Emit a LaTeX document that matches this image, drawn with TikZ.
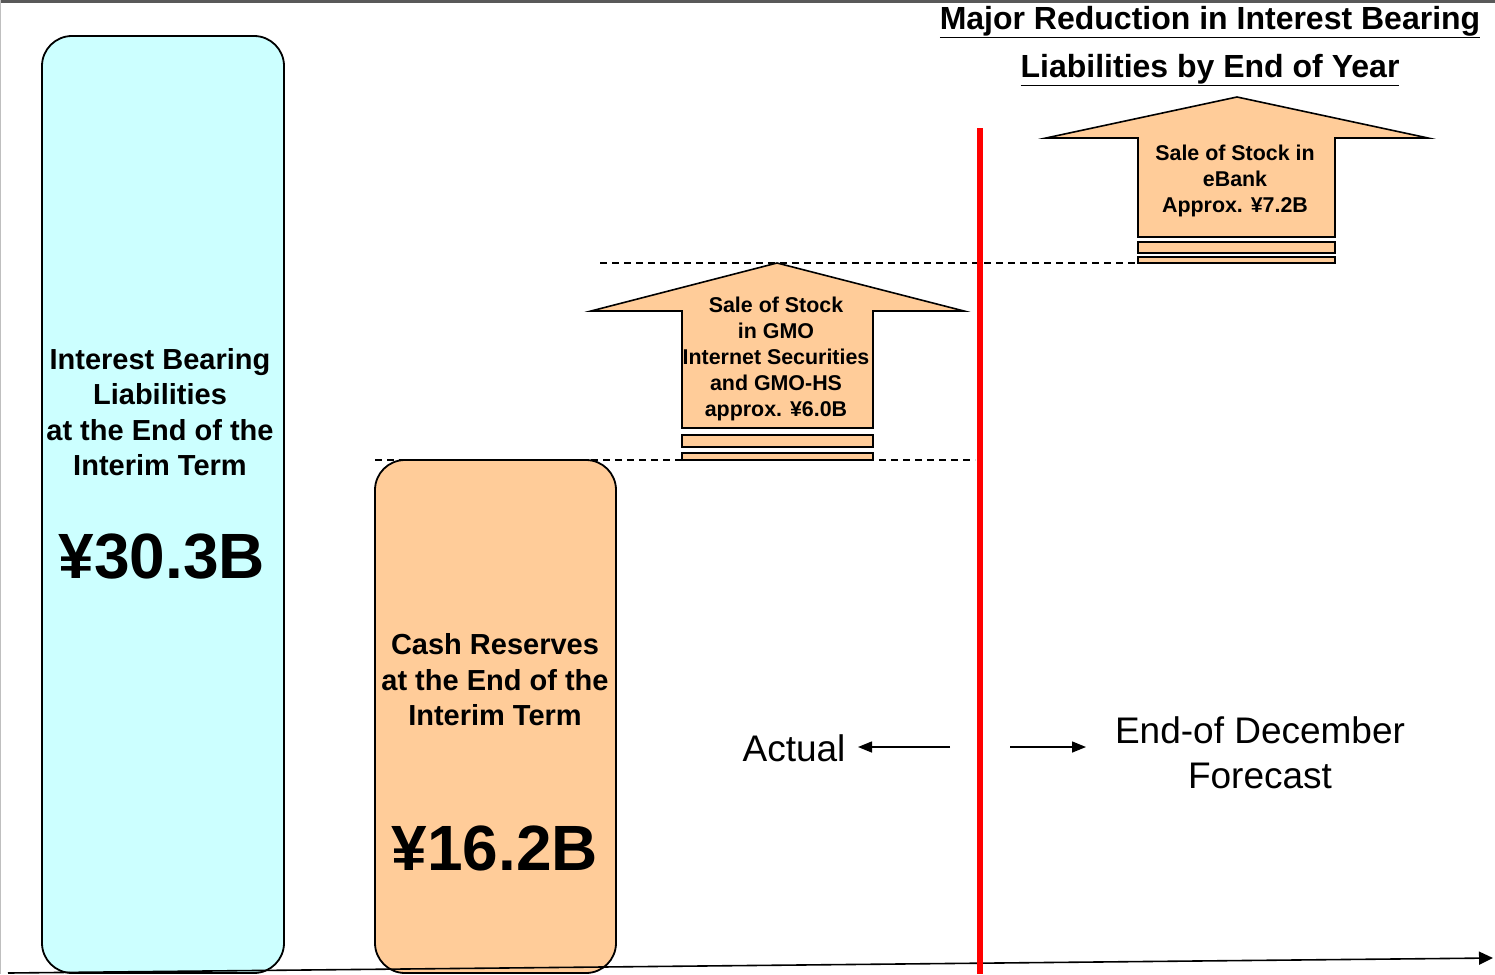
\documentclass[tikz,border=0pt]{standalone}
\usepackage{fontspec}
\setmainfont{Liberation Sans}
\usetikzlibrary{arrows.meta}
\definecolor{boxcyan}{HTML}{CCFFFF}
\definecolor{boxorange}{HTML}{FFCC99}
\definecolor{topgray}{HTML}{595959}
\definecolor{leftgray}{HTML}{BFBFBF}
\begin{document}
\begin{tikzpicture}[x=1pt,y=-1pt,
  bigbox/.style={draw=black,line width=1.8pt,rounded corners=30pt},
  arrowshape/.style={draw=black,line width=1.6pt,fill=boxorange,line join=miter},
  guide/.style={draw=black,line width=1.3pt,dash pattern=on 7pt off 5pt},
  boxtext/.style={inner sep=0pt,align=center,font=\bfseries\fontsize{29}{35.5}\selectfont},
  bignum/.style={inner sep=0pt,font=\bfseries\fontsize{64}{70}\selectfont},
  arrtext/.style={inner sep=0pt,align=center,font=\bfseries\fontsize{21.4}{26}\selectfont},
  plaintext/.style={inner sep=0pt,align=center,font=\fontsize{37}{45}\selectfont},
  titletext/.style={inner sep=0pt,font=\bfseries\fontsize{32}{38}\selectfont}
]
\useasboundingbox (0,0) rectangle (1495,974);
% frame lines
\draw[topgray,line width=3pt] (0,1.2) -- (1495,1.2);
\draw[leftgray,line width=1.2pt] (0.6,0) -- (0.6,974);
% big boxes
\draw[bigbox,fill=boxcyan] (42,36) rectangle (284,973);
\draw[bigbox,fill=boxorange] (375,460) rectangle (616,973);
% guides
\draw[guide] (600,263) -- (1140,263);
\draw[guide] (375,460) -- (975,460);
% arrow 1 (GMO)
\draw[arrowshape] (777,263) -- (964,311) -- (873,311) -- (873,428) -- (682,428) -- (682,311) -- (591,311) -- cycle;
\draw[arrowshape] (682,435) rectangle (873,447);
\draw[arrowshape] (682,453) rectangle (873,460);
% arrow 2 (eBank)
\draw[arrowshape] (1237,97) -- (1428,138) -- (1335,138) -- (1335,237) -- (1138,237) -- (1138,138) -- (1046,138) -- cycle;
\draw[arrowshape] (1138,242) rectangle (1335,253);
\draw[arrowshape] (1138,257) rectangle (1335,263);
% axis
\coordinate (axisL) at (8,973);
\coordinate (axisR) at (1493,958);
\draw[black,line width=1.6pt,-{Triangle[length=14pt,width=13pt]}] (axisL) -- (axisR);
% red divider
\draw[red,line width=6pt] (980,128) -- (980,974);
% texts
\node[titletext] (t1) at (1210,22) {\underline{Major Reduction in Interest Bearing}};
\node[titletext] (t2) at (1210,70) {\underline{Liabilities by End of Year}};
\node[boxtext] (ibl) at (160,412) {Interest Bearing\\Liabilities\\at the End of the\\Interim Term};
\node[bignum] (v1) at (162,557) {¥30.3B};
\node[boxtext] (cash) at (495,680) {Cash Reserves\\at the End of the\\Interim Term};
\node[bignum] (v2) at (495,848) {¥16.2B};
\node[arrtext] (gmo) at (776,359) {Sale of Stock\\in GMO\\Internet Securities\\and GMO-HS\\approx. ¥6.0B};
\node[arrtext] (ebank) at (1235,180.5) {Sale of Stock in\\eBank\\Approx. ¥7.2B};
\node[plaintext] (actual) at (794,748) {Actual};
\node[plaintext] (fcst) at (1260,753) {End-of December\\Forecast};
% small arrows
\coordinate (aL0) at (950,747);
\coordinate (aL1) at (858,747);
\coordinate (aR0) at (1010,747);
\coordinate (aR1) at (1086,747);
\draw[black,line width=1.5pt,-{Triangle[length=14pt,width=11pt]}] (aL0) -- (aL1);
\draw[black,line width=1.5pt,-{Triangle[length=14pt,width=11pt]}] (aR0) -- (aR1);
\end{tikzpicture}
\end{document}
